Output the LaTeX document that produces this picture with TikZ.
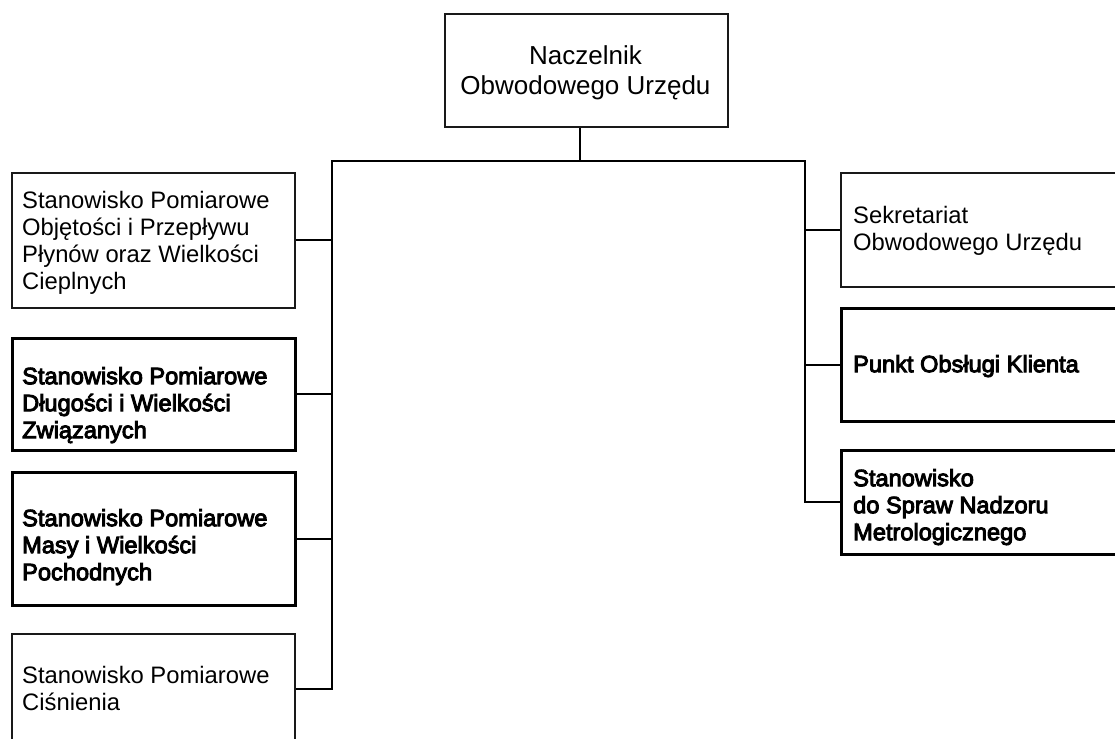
\documentclass[tikz,border=0pt]{standalone}
\usepackage{fontspec}
\setmainfont{Liberation Sans}
\newfontfamily\regfont{Liberation Sans}
\newfontfamily\boldfont[FakeBold=4]{Liberation Sans}
\begin{document}
\begin{tikzpicture}[x=1pt,y=-1pt,
  boxreg/.style={draw=black!90, line width=1.8pt, rectangle, inner sep=0pt, anchor=north west},
  boxbold/.style={draw=black, line width=2.6pt, rectangle, inner sep=0pt, anchor=north west},
  txtreg/.style={inner sep=0pt, anchor=north west, align=left, font=\regfont\fontsize{23.8pt}{27pt}\selectfont},
  txtbold/.style={inner sep=0pt, anchor=north west, align=left, font=\boldfont\fontsize{23.6pt}{27pt}\selectfont},
  txttop/.style={inner sep=0pt, anchor=north, align=center, font=\regfont\fontsize{26pt}{30pt}\selectfont},
  conn/.style={line width=2pt, draw=black}]
\useasboundingbox (0,0) rectangle (1115,738);
\clip (0,0) rectangle (1115,738);
% boxes
\node[boxreg, minimum width=283pt, minimum height=113pt] (top) at (444,13) {};
\node[boxreg, minimum width=283pt, minimum height=135pt] (L1) at (11,172) {};
\node[boxbold, minimum width=283pt, minimum height=112pt] (L2) at (11,337) {};
\node[boxbold, minimum width=283pt, minimum height=133pt] (L3) at (11,471) {};
\node[boxreg, minimum width=283pt, minimum height=110pt] (L4) at (11,633) {};
\node[boxreg, minimum width=300pt, minimum height=114pt] (R1) at (840,172) {};
\node[boxbold, minimum width=300pt, minimum height=113pt] (R2) at (840,307) {};
\node[boxbold, minimum width=300pt, minimum height=104pt] (R3) at (840,449) {};
% texts
\node[txttop] (ttop) at (585.5,44) {\rule{0pt}{20pt}Naczelnik\\Obwodowego Urzędu};
\node[txtreg] (tL1) at (22,188) {\rule{0pt}{20pt}Stanowisko Pomiarowe\\Objętości i Przepływu\\Płynów oraz Wielkości\\Cieplnych};
\node[txtbold] (tL2) at (22,364) {\rule{0pt}{20pt}Stanowisko Pomiarowe\\Długości i Wielkości\\Związanych};
\node[txtbold] (tL3) at (22,506) {\rule{0pt}{20pt}Stanowisko Pomiarowe\\Masy i Wielkości\\Pochodnych};
\node[txtreg] (tL4) at (22,663) {\rule{0pt}{20pt}Stanowisko Pomiarowe\\Ciśnienia};
\node[txtreg] (tR1) at (853,203) {\rule{0pt}{20pt}Sekretariat\\Obwodowego Urzędu};
\node[txtbold] (tR2) at (853,352) {\rule{0pt}{20pt}Punkt Obsługi Klienta};
\node[txtbold] (tR3) at (853,466) {\rule{0pt}{20pt}Stanowisko\\do Spraw Nadzoru\\Metrologicznego};
% connectors
\coordinate (hub) at (580,161);
\coordinate (hubL) at (332,161);
\coordinate (hubR) at (805,161);
\draw[conn] (top.south -| hub) -- (hub);
\draw[conn] (L4.east) -| (hubL) -- (hubR) |- (R3.west);
\draw[conn] (L1.east) -- (L1.east -| hubL);
\draw[conn] (L2.east) -- (L2.east -| hubL);
\draw[conn] (L3.east) -- (L3.east -| hubL);
\draw[conn] (R1.west) -- (R1.west -| hubR);
\draw[conn] (R2.west) -- (R2.west -| hubR);
\end{tikzpicture}
\end{document}
